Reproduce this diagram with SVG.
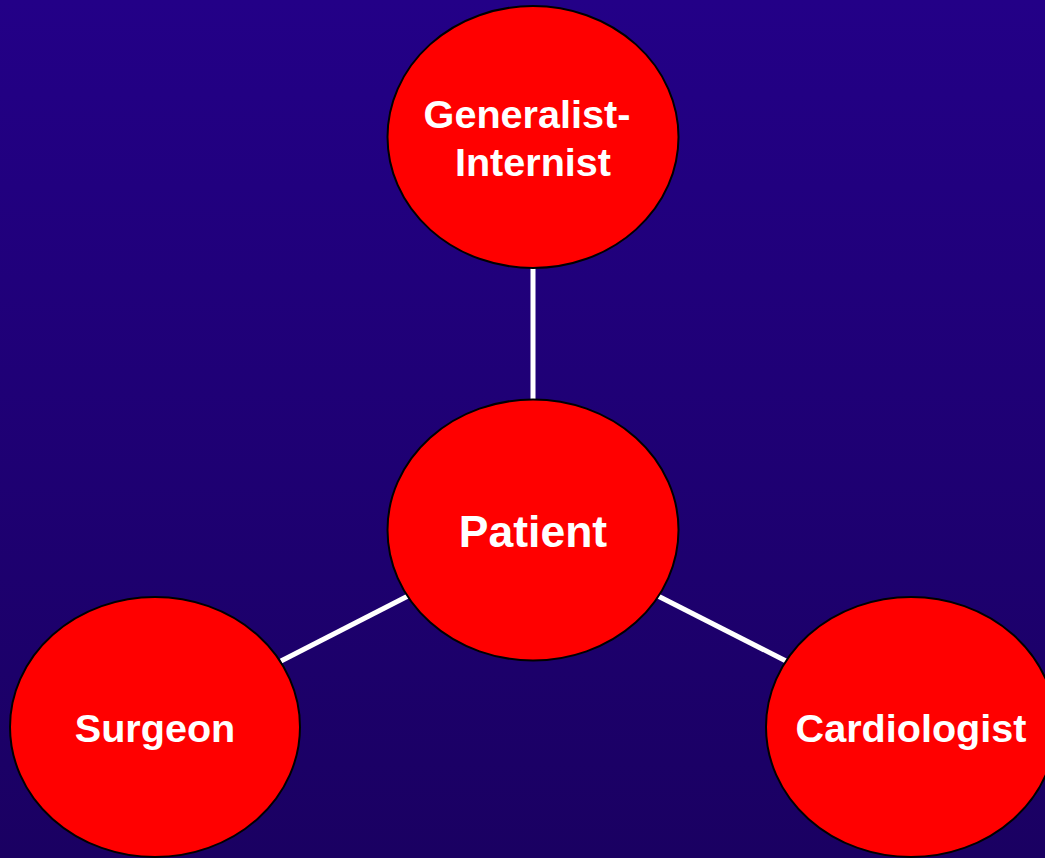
<svg xmlns="http://www.w3.org/2000/svg" width="1045" height="858" viewBox="0 0 1045 858">
  <defs>
    <linearGradient id="bg" x1="0" y1="0" x2="0" y2="1">
      <stop offset="0" stop-color="#230087"/>
      <stop offset="1" stop-color="#1a0062"/>
    </linearGradient>
    <style>
      .node { fill: #ff0000; stroke: #000000; stroke-width: 2; }
      .label { font-family: "Liberation Sans", Arial, sans-serif; font-weight: bold; fill: #ffffff; text-anchor: middle; font-size: 39.6px; }
      .link { stroke: #ffffff; stroke-width: 5; fill: none; }
    </style>
  </defs>
  <rect x="0" y="0" width="1045" height="858" fill="url(#bg)"/>
  <g id="connectors">
    <line class="link" x1="533" y1="268" x2="533" y2="400"/>
    <line class="link" x1="408" y1="596" x2="281" y2="661"/>
    <line class="link" x1="658" y1="596" x2="786" y2="661"/>
  </g>
  <g id="generalist">
    <ellipse class="node" cx="533" cy="137" rx="145.5" ry="131"/>
    <text class="label" x="527" y="128">Generalist-</text>
    <text class="label" x="533" y="176">Internist</text>
  </g>
  <g id="patient">
    <ellipse class="node" cx="533" cy="530" rx="145.5" ry="130.5"/>
    <text class="label" x="533" y="547" style="font-size:44.5px">Patient</text>
  </g>
  <g id="surgeon">
    <ellipse class="node" cx="155" cy="727" rx="145" ry="130"/>
    <text class="label" x="155" y="742">Surgeon</text>
  </g>
  <g id="cardiologist">
    <ellipse class="node" cx="911" cy="727" rx="145" ry="130"/>
    <text class="label" x="911" y="742">Cardiologist</text>
  </g>
</svg>
